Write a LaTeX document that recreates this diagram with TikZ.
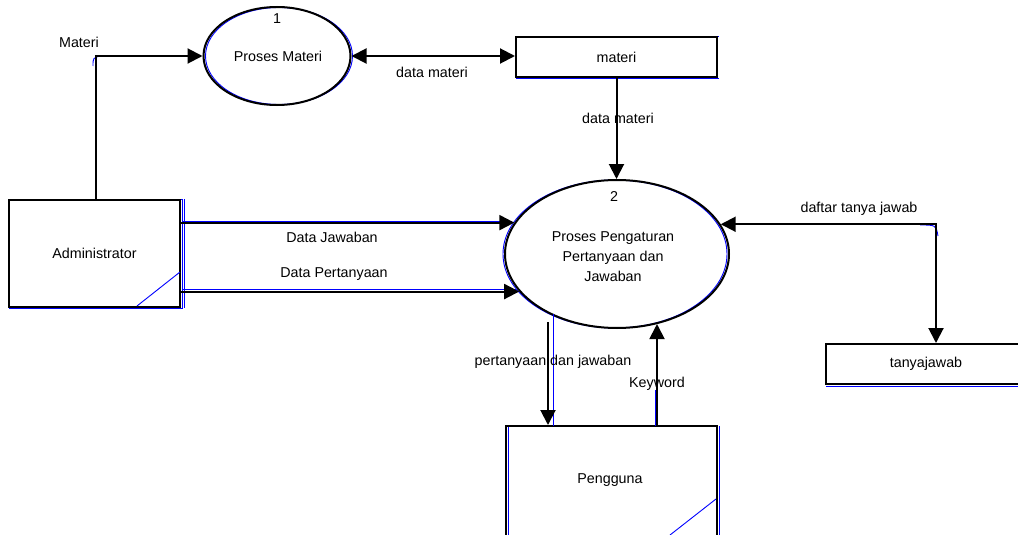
\documentclass[tikz,border=0pt]{standalone}
\usepackage{fontspec}
\setmainfont{Liberation Sans}
\usetikzlibrary{shapes.geometric,arrows.meta,calc}
\definecolor{edgeblue}{RGB}{0,0,255}

\begin{document}
\begin{tikzpicture}[x=1pt,y=-1pt,
  font=\fontsize{14.3}{20}\selectfont,
  proc/.style={draw, ellipse, line width=2pt, inner sep=0pt},
  box/.style={draw, rectangle, line width=2pt, inner sep=0pt},
  flow/.style={line width=2pt, -{Triangle[length=15pt,width=15pt]}},
  bflow/.style={line width=2pt, {Triangle[length=15pt,width=15pt]}-{Triangle[length=15pt,width=15pt]}},
  shade/.style={draw=edgeblue, line width=0.9pt},
  lbl/.style={inner sep=0pt, align=center}]

\useasboundingbox (0,0) rectangle (1018,535);
\clip (0,0) rectangle (1018,535);
\fill[white] (0,0) rectangle (1018,535);

% blue outlines lying under the main shapes
\draw[shade] (279,56) ellipse [x radius=73.5, y radius=48.5];
\draw[shade] (615,254) ellipse [x radius=112, y radius=74];
\draw[shade] (9,199) rectangle (182,308);
\draw[shade] (184,199) -- (184,308);
\draw[shade] (508,426) -- (508,540);
\draw[shade] (719,426) -- (719,540);
\draw[shade] (516,36) -- (719,36);
\draw[shade] (516,78) -- (719,78);
\draw[shade] (826,386) -- (1018,386);

% processes
\node[proc, minimum width=147pt, minimum height=98pt] (p1) at (277,56) {};
\node[lbl] (p1num) at (277,19) {1};
\node[lbl] (p1txt) at (278,56) {Proses Materi};

\node[proc, minimum width=224pt, minimum height=148pt] (p2) at (617,254) {};
\node[lbl] (p2num) at (614,197) {2};
\node[lbl] (p2txt) at (613,257) {Proses Pengaturan\\Pertanyaan dan\\Jawaban};

% data stores
\node[box, minimum width=201pt, minimum height=40pt] (materi) at (616.5,57) {materi};
\node[box, minimum width=200pt, minimum height=40pt] (tj) at (926,364) {tanyajawab};

% external entities
\node[box, minimum width=171pt, minimum height=107pt] (admin) at (94.5,253.5) {Administrator};
\node[box, minimum width=211pt, minimum height=140pt] (usr) at (611.5,496) {};
\node[lbl] (usrtxt) at (610,480) {Pengguna};
\draw[shade] (137,306) -- (180,272);
\draw[shade] (670,535) -- (716,499);

% blue traces beside the flows
\draw[shade] (100,56) -- (200,56);
\draw[shade] (93,66) .. controls (93,58) .. (100,56);
\draw[shade] (182,221) -- (512,221);
\draw[shade] (182,289.5) -- (516,289.5);
\draw[shade] (553,314) -- (553,426);
\draw[shade] (655,390) -- (655,426);
\draw[shade] (920,225) .. controls (936,225) .. (938,236);

% flows
\draw[flow] ([xshift=1.5pt]admin.north) |- (p1.west);
\draw[bflow] (p1.east) -- (p1.east -| materi.west);
\draw[flow] (materi.south) -- (materi.south |- p2.north);
\draw[flow] (p2.163 -| admin.east) -- (p2.163);
\draw[flow] (p2.201 -| admin.east) -- (p2.201);
\draw[bflow] (p2.16) -| ([xshift=10pt]tj.north);
\coordinate (pjstart) at (548,322);
\draw[flow] (pjstart) -- (pjstart |- usr.north);
\coordinate (kwstart) at ([xshift=45.5pt]usr.north);
\draw[flow] (kwstart) -- (kwstart |- p2.300);

% flow labels
\node[lbl] (lmateri) at (79,42) {Materi};
\node[lbl] (ldm1) at (432,72) {data materi};
\node[lbl] (ldm2) at (618,118) {data materi};
\node[lbl] (ljaw) at (332,237) {Data Jawaban};
\node[lbl] (lper) at (334,274) {Data Pertanyaan};
\node[lbl] (ldaftar) at (859,209) {daftar tanya jawab};
\node[lbl] (lpj) at (553,362) {pertanyaan dan jawaban};
\node[lbl] (lkw) at (657,384) {Keyword};
\end{tikzpicture}
\end{document}
